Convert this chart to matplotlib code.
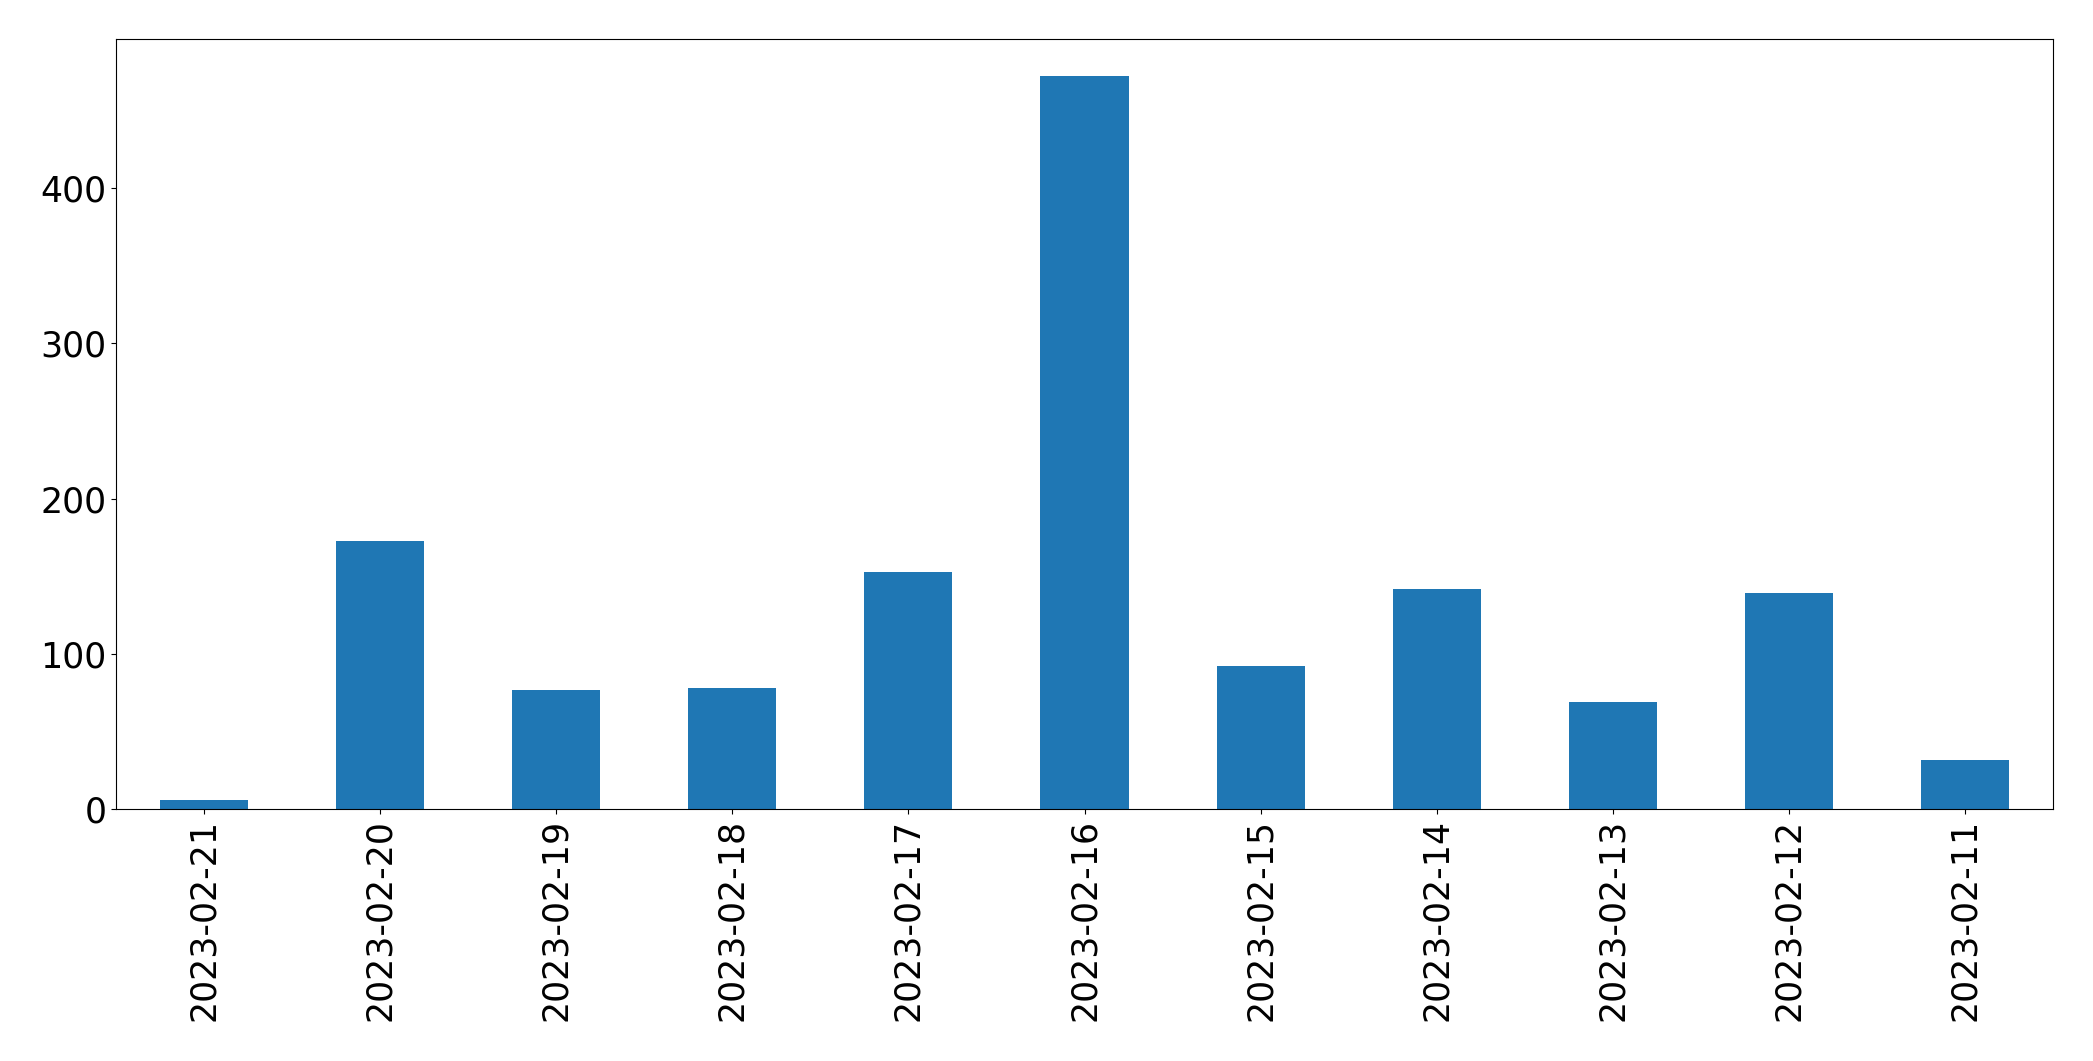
import matplotlib
matplotlib.use("Agg")
import matplotlib.pyplot as plt

dates = ["2023-02-21", "2023-02-20", "2023-02-19", "2023-02-18", "2023-02-17",
         "2023-02-16", "2023-02-15", "2023-02-14", "2023-02-13", "2023-02-12",
         "2023-02-11"]
counts = [6, 173, 77, 78, 153, 472, 92, 142, 69, 139, 32]

fig = plt.figure(figsize=(20.93, 10.61), dpi=100)
ax = fig.add_axes([116 / 2093, 1 - 809.3 / 1061, (2053 - 116) / 2093, (809.3 - 39.3) / 1061])
x = range(len(dates))
ax.bar(x, counts, width=0.5, color="#1f77b4")
ax.set_xticks(list(x))
ax.set_xticklabels(dates, rotation=90)
ax.set_xlim(-0.5, len(dates) - 0.5)
ax.tick_params(labelsize=25)
fig.savefig("out.png", dpi=100)
